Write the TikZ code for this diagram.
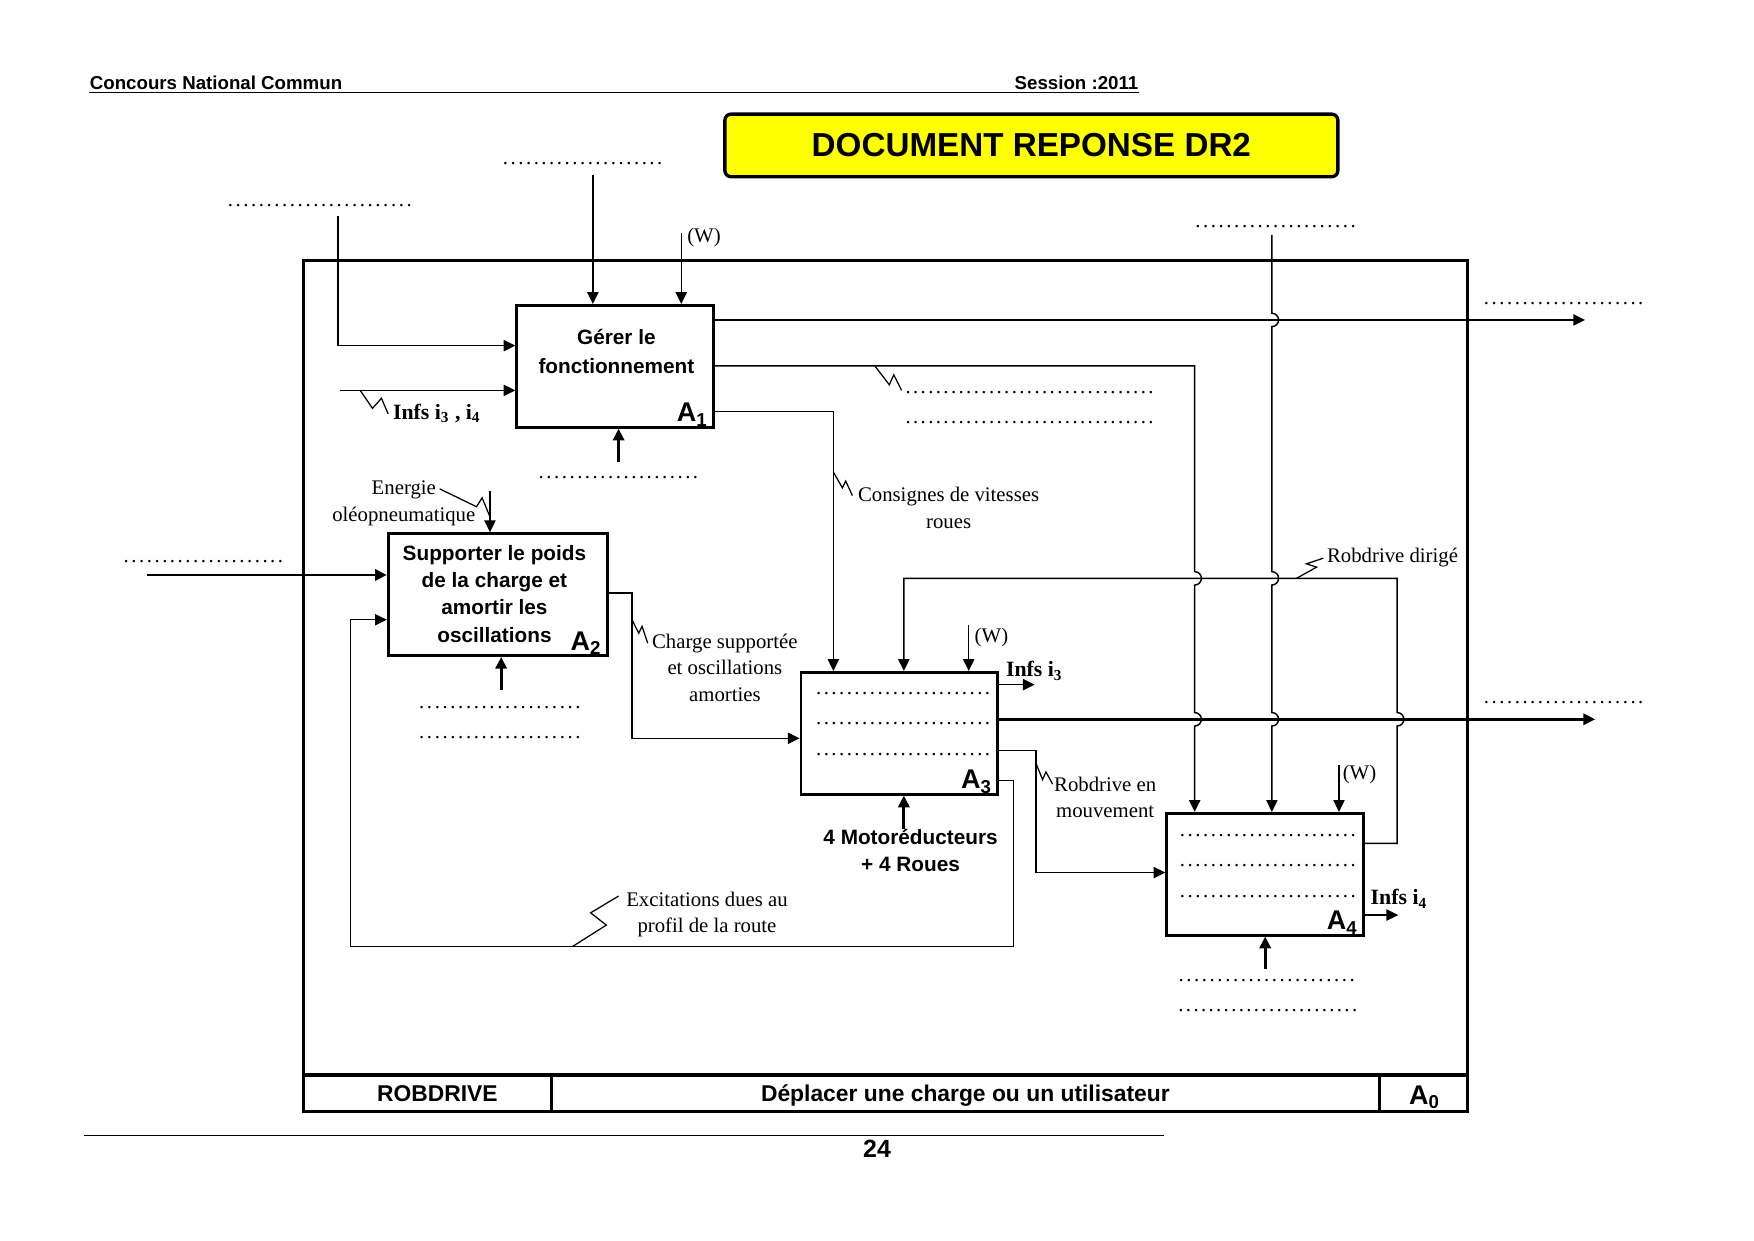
\documentclass[tikz,border=0pt]{standalone}
\usepackage{fontspec}
\setmainfont{Liberation Serif}
\setsansfont{Liberation Sans}
\usepackage{tikz}
\usetikzlibrary{calc,arrows.meta,positioning}
\definecolor{jaune}{HTML}{FFFF00}
\newlength\upx
\setlength\upx{0.018941cm}
\newcommand\pts[1]{\makebox[#1\upx][l]{\xleaders\hbox to 3.6pt{\hss.\hss}\hfill}}
\newcommand\numA[1]{\sffamily\bfseries\fontsize{13}{13}\selectfont A\raisebox{-0.3ex}{\fontsize{9}{9}\selectfont #1}}
\newcommand\sautbas[2]{-- (#1,#2-6) arc[start angle=90,end angle=-90,radius=6\upx]}
\newcommand\sauthaut[2]{-- (#1,#2+6) arc[start angle=-90,end angle=90,radius=6\upx]}
\tikzset{
  bx/.style={draw,line width=1.3pt,minimum width=#1\upx,minimum height=109\upx,inner sep=0pt},
  bx/.default=176,
  fl/.style={-{Triangle[length=2mm,width=1.9mm]},line width=0.7pt},
  flg/.style={fl,line width=1.4pt},
  zz/.style={line width=0.6pt},
  st/.style={font=\sffamily\bfseries\fontsize{10}{14}\selectfont,align=center,inner sep=0pt,anchor=base},
  lb/.style={font=\fontsize{10}{12.8}\selectfont,align=center,inner sep=0pt,anchor=base},
  lw/.style={lb,anchor=base west},
  pt/.style={font=\fontsize{10}{10}\selectfont,inner sep=0pt,anchor=base west},
  inf/.style={font=\bfseries\fontsize{10.5}{12}\selectfont,inner sep=0pt,anchor=base west}
}
\begin{document}
\begin{tikzpicture}[x=0.018941cm,y=-0.018941cm]
\useasboundingbox (0,0) rectangle (1568,1109);
\node[pt,font=\sffamily\bfseries\fontsize{9}{10}\selectfont] (conc) at (80,80) {Concours National Commun};
\node[pt,anchor=base east,font=\sffamily\bfseries\fontsize{9}{10}\selectfont] (sess) at (1018,80) {Session :2011};
\draw[line width=0.6pt] (conc.base west |- 0,83) -- (sess.base east |- 0,83);
\node[draw,line width=1.6pt,fill=jaune,rounded corners=3pt,minimum width=548\upx,minimum height=56\upx,font=\sffamily\bfseries\fontsize{16}{16}\selectfont] (titre) at (922,130) {DOCUMENT REPONSE DR2};
% cadre A0
\draw[line width=1.5pt] (271,233) rectangle (1312,994);
\draw[line width=1.5pt] (271,961) -- (1312,961) (493,961) -- (493,994) (1233,961) -- (1233,994);
\node[st,font=\sffamily\bfseries\fontsize{11}{11}\selectfont] (nom) at (391,985) {ROBDRIVE};
\node[st,font=\sffamily\bfseries\fontsize{11}{11}\selectfont] (fct) at (863,985) {Déplacer une charge ou un utilisateur};
\node[inner sep=0pt,anchor=base] (nA0) at (1273,987) {\numA{0}};
\draw[line width=0.6pt] (75,1015) -- (1041,1015);
\node[st,font=\sffamily\bfseries\fontsize{12}{12}\selectfont] (page) at (784,1035) {24};
% boites
\node[bx] (A1) at (550,327.5) {};
\node[bx=196] (A2) at (445,531.5) {};
\node[bx] (A3) at (804,655.5) {};
\node[bx] (A4) at (1131,781.5) {};
\node[st] (tA1) at (551,334) {Gérer le\\fonctionnement};
\node[st,font=\sffamily\bfseries\fontsize{10}{13.1}\selectfont] (tA2) at (442,574) {Supporter le poids\\de la charge et\\amortir les\\oscillations};
\foreach \bb/\nn in {A1/1,A2/2,A3/3,A4/4}
  \node[inner sep=0pt,anchor=base east] (n\bb) at ($(\bb.south east)+(-7,-6)$) {\numA{\nn}};
\foreach \yy in {621,648,675} \node[pt] (dA3\yy) at (728,\yy) {\pts{158}};
\foreach \yy in {748,775,802} \node[pt] (dA4\yy) at (1053,\yy) {\pts{160}};
\foreach \xx/\yy/\ww [count=\k] in {202/185/167,448/147/145,1067/203/146,1325/272/145,1325/629/145,480/428/145,808/352/224,808/379/224,109/503/145,373/633/147,373/660/147,1052/877/160,1052/904/162}
  \node[pt] (p\k) at (\xx,\yy) {\pts{\ww}};
% extremites libres
\coordinate (e1) at (302,193);
\coordinate (e2) at (530,156);
\coordinate (w1) at (609,208);
\coordinate (e3) at (304,349);
\coordinate (m1) at (553,413);
\coordinate (e4) at (131,514);
\coordinate (e5) at (438,439);
\coordinate (m2) at (448,617);
\coordinate (w3) at (866,559);
\coordinate (m3) at (808,741);
\coordinate (e6) at (1137,210);
\coordinate (w4) at (1197,684);
\coordinate (m4) at (1131,866);
\coordinate (s1) at (1417,286);
\coordinate (s2) at (1426,643);
\coordinate (i3) at (925,612);
\coordinate (i4) at (1250,818);
% A1
\draw[fl] (e1) |- (A1.west |- 0,309);
\draw[fl] (e2) -- (A1.north -| e2);
\draw[fl] (w1) -- (A1.north -| w1);
\draw[fl] (e3) -- (A1.west |- e3);
\draw[flg] (m1) -- (A1.south -| m1);
\draw[fl,line width=0.9pt] (A1.east |- s1) -- (s1);
\draw[fl] (A1.east |- 0,327) -- (1068,327) \sautbas{1068}{517} \sautbas{1068}{643} -- (A4.north -| 1068,0);
\draw[fl] (A1.east |- 0,368) -| (A3.north -| 745,0);
% A2
\draw[flg] (e4) -- (A2.west |- e4);
\draw[fl] (e5) -- (A2.north -| e5);
\draw[flg] (m2) -- (A2.south -| m2);
\draw[fl] (A2.east |- 0,530) -- (565,530) |- (A3.west |- 0,660);
\draw[fl,line width=0.6pt] (A3.east |- 0,698) -| (906,846) -| (313,554) -- (A2.west |- 0,554);
% A3
\draw[fl] (A4.east |- 0,754) -- (1249,754) \sauthaut{1249}{643} -- (1249,517) -- (808,517) -- (A3.north -| 808,0);
\draw[fl] (w3) -- (A3.north -| w3);
\draw[fl] (A3.east |- i3) -- (i3);
\draw[flg] (m3) -- (A3.south -| m3);
\draw[fl,line width=1.3pt] (A3.east |- s2) -- (s2);
\draw[fl] (A3.east |- 0,671) -- (926,671) |- (A4.west |- 0,780);
% A4
\draw[fl] (e6) \sautbas{1137}{286} \sautbas{1137}{517} \sautbas{1137}{643} -- (A4.north -| e6);
\draw[fl] (w4) -- (A4.north -| w4);
\draw[fl] (A4.east |- i4) -- (i4);
\draw[flg] (m4) -- (A4.south -| m4);
% eclairs
\draw[zz] (322,349) -- (333,365) -- (341,356) -- (347,370);
\draw[zz] (782,327) -- (795,344) -- (799,335) -- (806,349);
\draw[zz] (745,422) -- (753,436) -- (756,430) -- (762,443);
\draw[zz] (565,554) -- (571,566) -- (574,560) -- (579,575);
\draw[zz] (926,682) -- (932,697) -- (935,690) -- (941,701);
\draw[zz] (1159,517) -- (1177,507) -- (1168,504) -- (1183,499);
\draw[zz] (512,846) -- (542,827) -- (528,816) -- (553,801);
\draw[zz] (393,437) -- (426,453) -- (431,445) -- (438,462);
% textes
\node[inf] (linf) at (351,375) {Infs i\textsubscript{3} , i\textsubscript{4}};
\node[lw] (lw1) at (614,217) {(W)};
\node[lw] (lw3) at (871,574) {(W)};
\node[lw] (lw4) at (1200,697) {(W)};
\node[inf] (li3) at (899,605) {Infs i\textsubscript{3}};
\node[inf] (li4) at (1225,809) {Infs i\textsubscript{4}};
\node[lb] (lcons) at (848,472) {Consignes de vitesses\\roues};
\node[lb] (lch) at (648,627) {Charge supportée\\et oscillations\\amorties};
\node[lb] (len) at (361,466) {Energie\\oléopneumatique};
\node[lb] (lmv) at (988,731) {Robdrive en\\mouvement};
\node[lb] (lex) at (632,834) {Excitations dues au\\profil de la route};
\node[lw] (ldir) at (1186,503) {Robdrive dirigé};
\node[st,font=\sffamily\bfseries\fontsize{10}{13}\selectfont] (lmot) at (814,779) {4 Motoréducteurs\\+ 4 Roues};
\end{tikzpicture}
\end{document}
